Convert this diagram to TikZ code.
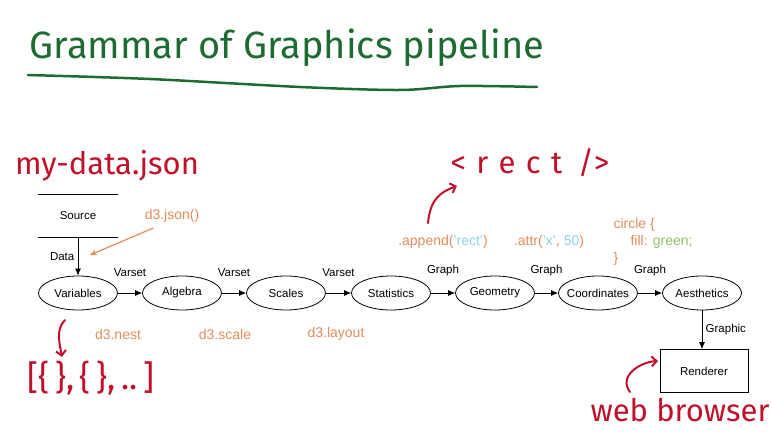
\documentclass[tikz,border=0pt]{standalone}
\usepackage{fontspec}
\setmainfont{Liberation Sans}
\newfontfamily\handfont{Fira Sans}
\usetikzlibrary{arrows.meta, shapes.geometric, positioning}
\definecolor{titlegreen}{HTML}{1E6B32}
\definecolor{inkred}{HTML}{C0102A}
\definecolor{codeorange}{HTML}{E08C5A}
\definecolor{codeblue}{HTML}{8ECFEA}
\definecolor{codegreen}{HTML}{90C060}

\begin{document}
\begin{tikzpicture}[
    x=1pt, y=-1pt, font=\fontsize{11.5}{13}\selectfont,
    stage/.style={draw, ellipse, line width=0.8pt, minimum width=79pt, minimum height=34pt, inner sep=0pt},
    flow/.style={-{Latex[length=7pt,width=6pt]}, line width=0.7pt},
    code/.style={text=codeorange, font=\fontsize{14}{16}\selectfont},
    hand/.style={text=inkred, font=\handfont\fontsize{31}{33}\selectfont},
    ink/.style={-{Straight Barb[length=5pt,width=10pt]}, draw=inkred, line width=2pt, line cap=round}
]
    \useasboundingbox (0,0) rectangle (772,438);

    % title
    \node[text=titlegreen, font=\handfont\fontsize{38}{40}\selectfont] (title) at (287,48) {Grammar of Graphics pipeline};
    \draw[titlegreen, line width=2.5pt, line cap=round] plot[smooth] coordinates {(28,75) (150,79) (300,87) (400,90) (460,86) (537,87)};

    % source store
    \node[minimum width=79pt, minimum height=42pt] (src) at (78,216) {Source};
    \draw[line width=0.8pt] (src.north west) -- (src.north east);
    \draw[line width=0.8pt] (src.south west) -- (src.south east);

    % pipeline stages
    \node[stage, label=center:Variables]   (var) at (78,293)  {};
    \node[stage, label=center:Algebra]     (alg) at (182,293) {};
    \node[stage, label=center:Scales]      (scl) at (286,293) {};
    \node[stage, label=center:Statistics]  (sta) at (391,293) {};
    \node[stage, label=center:Geometry]    (geo) at (495,293) {};
    \node[stage, label=center:Coordinates] (crd) at (598,293) {};
    \node[stage, label=center:Aesthetics]  (aes) at (702,293) {};
    \node[draw, line width=0.8pt, minimum width=88pt, minimum height=43pt] (ren) at (704,371) {Renderer};

    \draw[flow] (src.south) -- node[left=0pt] {Data} (var.north);
    \draw[flow] (var) -- node[above=13pt] {Varset} (alg);
    \draw[flow] (alg) -- node[above=13pt] {Varset} (scl);
    \draw[flow] (scl) -- node[above=13pt] {Varset} (sta);
    \draw[flow] (sta) -- node[above=13pt] {Graph} (geo);
    \draw[flow] (geo) -- node[above=13pt] {Graph} (crd);
    \draw[flow] (crd) -- node[above=13pt] {Graph} (aes);
    \draw[flow] (aes.south) -- node[right=0pt] {Graphic} (aes.south |- ren.north);

    % d3 calls
    \node[code] (json) at (172,216) {d3.json()};
    \coordinate (jsonend) at (90,255);
    \draw[codeorange, line width=1.2pt, -{Stealth[length=7pt,width=6pt]}] (json.south west) ++(12,2) coordinate (jsontail) -- (jsonend);
    \node[code] (nest) at (118,334) {d3.nest};
    \node[code] (scale) at (225,334) {d3.scale};
    \node[code] (layout) at (336,334) {d3.layout};
    \node[code] (append) at (443,242) {.append(\textcolor{codeblue}{'rect'})};
    \node[code] (attr) at (549,242) {.attr(\textcolor{codeblue}{'x'}, \textcolor{codeblue}{50})};
    \node[code, anchor=west] (css1) at (610,225) {circle \{};
    \node[code, anchor=west] (css2) at (627,242) {fill: \textcolor{codegreen}{green;}};
    \node[code, anchor=west] (css3) at (610,259) {\}};

    % handwritten notes
    \node[hand] (file) at (107,166) {my-data.json};
    \node[hand] (rect) at (530,163) {<\,\,r\,\,e\,\,c\,\,t\,\,\,/>};
    \node[hand, font=\handfont\fontsize{34}{36}\selectfont] (arr) at (91,378) {[\{\,\},\,\{\,\},\,..\,]};
    \node[hand] (web) at (680,410) {web browser};

    \coordinate (rtail) at (428,223);
    \coordinate (rhead) at (457,186);
    \draw[ink] (rtail) .. controls (430,200) and (440,192) .. (rhead);
    \coordinate (dtail) at (65,320);
    \coordinate (dhead) at (62,357);
    \draw[ink] (dtail) .. controls (55,330) and (60,345) .. (dhead);
    \coordinate (btail) at (630,392);
    \coordinate (bhead) at (658,361);
    \draw[ink] (btail) .. controls (618,376) and (640,362) .. (bhead);
\end{tikzpicture}
\end{document}
